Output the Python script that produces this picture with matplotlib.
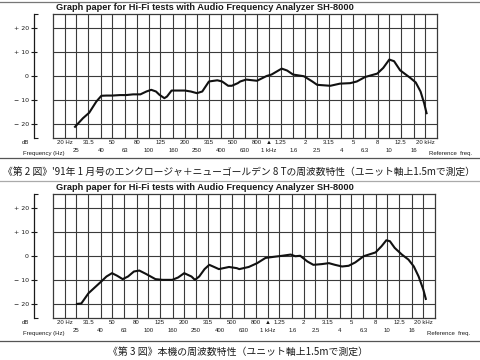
import matplotlib
matplotlib.use("Agg")
import matplotlib.pyplot as plt
from matplotlib.lines import Line2D
from matplotlib.ticker import NullLocator


# third-octave grid of the graph paper
band_hz = [20, 25, 31.5, 40, 50, 63, 80, 100, 125, 160, 200, 250, 315, 400, 500, 630, 800,
           1000, 1250, 1600, 2000, 2500, 3150, 4000, 5000, 6300, 8000, 10000, 12500, 16000, 20000]
upper_hz = [20, 31.5, 50, 80, 125, 200, 315, 500, 800, 1000, 1250, 2000, 3150, 5000, 8000, 12500, 20000]
upper_labels = ["20 Hz", "31.5", "50", "80", "125", "200", "315", "500", "800", "▲", "1.25",
                "2", "3.15", "5", "8", "12.5", "20 kHz"]
lower_hz = [25, 40, 63, 100, 160, 250, 400, 630, 1000, 1600, 2500, 4000, 6300, 10000, 16000]
lower_labels = ["25", "40", "63", "100", "160", "250", "400", "630", "1 kHz", "1.6", "2.5",
                "4", "6.3", "10", "16"]
db_ticks = [-20, -10, 0, 10, 20]
db_labels = ["− 20", "− 10", "0", "+ 10", "+ 20"]

# fig 2: enclosure + New Golden 8T
fig2_hz = [24.4, 28.4, 32, 36.7, 40.4, 44.5, 50, 57.7, 64.7, 74.3, 85.3, 95.7, 105, 115, 123,
           135, 142, 155, 170, 200, 224, 252, 279, 317, 372, 408, 458, 491, 551, 577,
           647, 796, 957, 1050, 1277, 1416, 1589, 1954, 2296, 2518, 3244, 3900, 4742, 5383, 6325,
           7962, 8934, 10024, 10990, 12332, 14997, 16636, 18240, 19544, 20465]
fig2_db = [-21.3, -17.7, -15.4, -10.7, -8.3, -8.2, -8.2, -8.0, -8.0, -7.7, -7.7, -6.5, -5.8, -6.5, -7.9,
           -9.3, -8.6, -6.1, -6.1, -6.1, -6.5, -7.2, -6.5, -2.3, -1.8, -2.3, -4.1, -4.1, -3.0, -2.3,
           -1.5, -2.0, 0.0, 0.6, 3.1, 2.3, 0.6, -0.1, -2.3, -3.7, -4.1, -3.2, -3.0, -2.3, -0.4,
           1.0, 3.4, 6.9, 6.2, 2.4, -0.8, -2.7, -6.5, -11.4, -15.6]

# fig 3: this unit
fig3_hz = [25.4, 27.6, 31.7, 40.5, 44.8, 49.8, 55.1, 61.2, 67.8, 76.0, 84.3, 95.7, 115, 132, 159,
           178, 200, 230, 246, 267, 296, 324, 356, 390, 474, 551, 577, 693, 815, 957,
           1099, 1321, 1552, 1702, 1867, 2143, 2404, 2825, 3244, 3640, 4178, 4742, 5383, 6325, 7962,
           8934, 9796, 10496, 11508, 13213, 14997, 16636, 18240, 20000, 20942]
fig3_db = [-20.1, -19.9, -15.6, -10.7, -8.6, -7.2, -8.3, -9.7, -8.6, -6.5, -6.1, -7.5, -9.7, -10.0, -10.0,
           -9.0, -7.2, -8.6, -10.0, -8.6, -5.5, -3.7, -4.6, -5.5, -4.6, -5.1, -5.5, -4.6, -3.0, -0.8,
           -0.4, 0.1, 0.6, -0.1, 0.1, -2.3, -3.7, -3.4, -3.0, -3.7, -4.4, -4.1, -2.7, -0.1, 1.5,
           4.1, 6.6, 6.2, 3.4, 0.6, -1.5, -4.4, -8.6, -14.2, -18.0]

title = "Graph paper for Hi-Fi tests with Audio Frequency Analyzer SH-8000"
caption2 = "《第 2 図》'91年 1 月号のエンクロージャ＋ニューゴールデン 8 Tの周波数特性（ユニット軸上1.5mで測定）"
caption3 = "《第 3 図》本機の周波数特性（ユニット軸上1.5mで測定）"

SANS = ["Liberation Sans", "DejaVu Sans"]
CJK = ["Noto Sans CJK JP", "DejaVu Sans"]
INK = "#1a1a1a"
GRID = "#3a3a3a"


def draw_panel(ax, freq, db):
    ax.set_xscale("log")
    ax.set_xlim(16, 25000)
    ax.set_ylim(-26, 26)
    ax.set_xticks(band_hz)
    ax.xaxis.set_minor_locator(NullLocator())
    ax.tick_params(axis="x", length=0, labelbottom=False)
    ax.set_yticks(db_ticks)
    ax.set_yticks([-26, 26], minor=True)
    ax.tick_params(axis="y", which="major", direction="inout", length=4, width=0.8,
                   color=INK, pad=1.5, labelsize=4.5, labelcolor=INK)
    ax.tick_params(axis="y", which="minor", direction="in", length=3, width=0.8, color=INK)
    ax.set_yticklabels(db_labels)
    for lab in ax.get_yticklabels():
        lab.set_family(SANS)
        lab.set_fontsize(4.5)
    ax.grid(True, which="major", color=GRID, lw=0.8)
    for s in ax.spines.values():
        s.set_color(GRID)
        s.set_linewidth(0.9)
    ax.spines["left"].set_position(("outward", 14))
    ax.spines["left"].set_color(INK)
    ax.axvline(16, color=GRID, lw=0.9, clip_on=False)

    ax.plot(freq, db, color="#111111", lw=1.5, solid_joinstyle="round")

    for f, t in zip(upper_hz, upper_labels):
        ax.annotate(t, xy=(f, 0), xycoords=("data", "axes fraction"), xytext=(0, -5),
                    textcoords="offset pixels", ha="center", va="center",
                    fontsize=4.3, family=SANS, color=INK)
    for f, t in zip(lower_hz, lower_labels):
        ax.annotate(t, xy=(f, 0), xycoords=("data", "axes fraction"), xytext=(0, -13),
                    textcoords="offset pixels", ha="center", va="center",
                    fontsize=4.3, family=SANS, color=INK)
    ax.annotate("dB", xy=(0, 0), xycoords="axes fraction", xytext=(-28, -4),
                textcoords="offset pixels", ha="center", va="center",
                fontsize=4.3, family=SANS, color=INK)
    ax.annotate("Frequency (Hz)", xy=(0, 0), xycoords="axes fraction", xytext=(-9, -15),
                textcoords="offset pixels", ha="center", va="center",
                fontsize=4.3, family=SANS, color=INK)
    ax.annotate("Reference  freq.", xy=(1, 0), xycoords="axes fraction", xytext=(14, -15),
                textcoords="offset pixels", ha="center", va="center",
                fontsize=4.3, family=SANS, color=INK)


fig = plt.figure(figsize=(4.8, 3.6), dpi=100)
ax2 = fig.add_axes([53 / 480, 1 - 138 / 360, 384 / 480, 124 / 360])
ax3 = fig.add_axes([53 / 480, 1 - 318 / 360, 382 / 480, 124 / 360])
draw_panel(ax2, fig2_hz, fig2_db)
draw_panel(ax3, fig3_hz, fig3_db)

fig.text(56 / 480, 1 - 8 / 360, title, ha="left", va="center", fontsize=6.7,
         fontweight="bold", family=SANS, color=INK)
fig.text(56 / 480, 1 - 188 / 360, title, ha="left", va="center", fontsize=6.7,
         fontweight="bold", family=SANS, color=INK)

fig.text(3 / 480, 1 - 172 / 360, caption2, ha="left", va="center", fontsize=7.05,
         family=CJK, color=INK)
fig.text(238 / 480, 1 - 352 / 360, caption3, ha="center", va="center", fontsize=7.1,
         family=CJK, color=INK)

# horizontal rules of the scanned page
for y, c in [(2, "#777777"), (158, "#555555"), (181, "#aaaaaa"), (341, "#555555")]:
    fig.add_artist(Line2D([0, 1], [1 - y / 360, 1 - y / 360], transform=fig.transFigure,
                          color=c, lw=0.9))

fig.savefig("out.png", dpi=100)
